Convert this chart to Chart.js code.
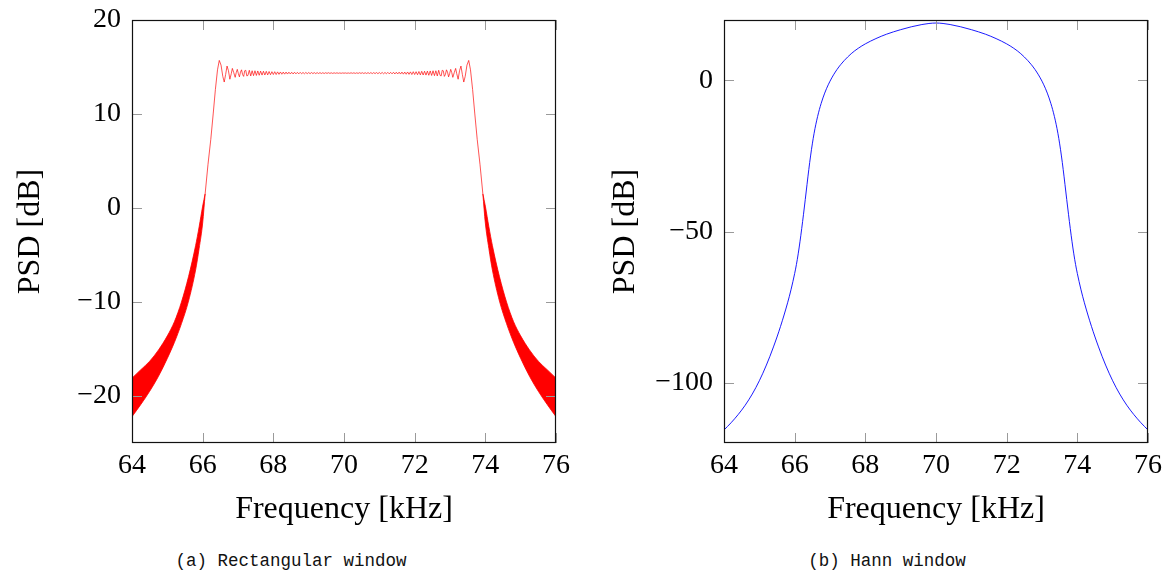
<!DOCTYPE html>
<html>
<head>
<meta charset="utf-8">
<script src="https://cdn.jsdelivr.net/npm/chart.js@4/dist/chart.umd.min.js"></script>
<style>
  body { margin: 0; background: #fff; width: 1168px; height: 577px; overflow: hidden; position: relative; }
  canvas { position: absolute; top: 0; }
  #rect { left: 0; }
  #hann { left: 584px; }
  .cap { position: absolute; top: 551px; font: 17.5px "Liberation Mono", monospace; color: #111;
         white-space: nowrap; transform: translateX(-50%); }
</style>
</head>
<body>
<canvas id="rect" width="584" height="540" style="width:584px;height:540px"></canvas>
<canvas id="hann" width="584" height="540" style="width:584px;height:540px"></canvas>
<div class="cap" style="left:291px">(a) Rectangular window</div>
<div class="cap" style="left:887px">(b) Hann window</div>
<script>
// Axis ticks
const freqTicks = [64, 66, 68, 70, 72, 74, 76];
const rectDbTicks = [-20, -10, 0, 10, 20];
const hannDbTicks = [-100, -50, 0];

// Rectangular window: skirts (dense ripple shown as the band between its envelopes)
const leftSkirtFreq  = [64.0, 64.25, 64.5, 64.75, 65.0, 65.2, 65.4, 65.6, 65.8, 65.9, 66.0, 66.07];
const leftSkirtUpper = [-18.1, -17.2, -16.3, -15.1, -13.6, -12.1, -10.0, -7.3, -4.0, -2.0, 0.2, 1.5];
const leftSkirtLower = [-22.2, -20.9, -19.5, -17.9, -16.0, -14.3, -12.3, -9.9, -6.6, -4.3, -1.6, 1.5];
const rightSkirtFreq  = [73.93, 74.0, 74.1, 74.2, 74.4, 74.6, 74.8, 75.0, 75.25, 75.5, 75.75, 76.0];
const rightSkirtUpper = [1.5, 0.2, -2.0, -4.0, -7.3, -10.0, -12.1, -13.6, -15.1, -16.3, -17.2, -18.1];
const rightSkirtLower = [1.5, -1.6, -4.3, -6.6, -9.9, -12.3, -14.3, -16.0, -17.9, -19.5, -20.9, -22.2];

// Rectangular window: passband with its ripple
const passFreq = [
  66.07, 66.15, 66.23, 66.30, 66.36, 66.42, 66.47, 66.52, 66.57, 66.61, 66.65, 66.69, 66.73, 66.77, 66.81,
  66.84, 66.88, 66.92, 66.95, 66.98, 67.01, 67.04, 67.07, 67.10, 67.13, 67.16, 67.19, 67.22, 67.25, 67.28,
  67.32, 67.36, 67.40, 67.44, 67.48, 67.52, 67.56, 67.60, 67.64, 67.68, 67.72, 67.76, 67.80, 67.84, 67.88,
  67.92, 67.96, 68.00, 68.04, 68.08, 68.12, 68.16, 68.20, 68.24, 68.28, 68.32, 68.36, 68.40, 68.44, 68.48,
  68.52, 68.56, 68.60, 68.64, 68.68, 68.72, 68.76, 68.80, 68.84, 68.88, 68.92, 68.96, 69.00, 69.04, 69.08,
  69.12, 69.16, 69.20, 69.24, 69.28, 69.32, 69.36, 69.40, 69.44, 69.48, 69.52, 69.56, 69.60, 69.64, 69.68,
  69.72, 69.76, 69.80, 69.84, 69.88, 69.92, 69.96, 70.00,
  70.04, 70.08, 70.12, 70.16, 70.20, 70.24, 70.28, 70.32, 70.36, 70.40, 70.44, 70.48, 70.52, 70.56, 70.60,
  70.64, 70.68, 70.72, 70.76, 70.80, 70.84, 70.88, 70.92, 70.96, 71.00, 71.04, 71.08, 71.12, 71.16, 71.20,
  71.24, 71.28, 71.32, 71.36, 71.40, 71.44, 71.48, 71.52, 71.56, 71.60, 71.64, 71.68, 71.72, 71.76, 71.80,
  71.84, 71.88, 71.92, 71.96, 72.00, 72.04, 72.08, 72.12, 72.16, 72.20, 72.24, 72.28, 72.32, 72.36, 72.40,
  72.44, 72.48, 72.52, 72.56, 72.60, 72.64, 72.68,
  72.72, 72.75, 72.78, 72.81, 72.84, 72.87, 72.90, 72.93, 72.96, 72.99, 73.02, 73.05, 73.08, 73.12, 73.16,
  73.19, 73.23, 73.27, 73.31, 73.35, 73.39, 73.43, 73.48, 73.53, 73.58, 73.64, 73.70, 73.77, 73.85, 73.93
];
const passDb = [
  1.5, 4.6, 7.3, 10.1, 12.6, 14.7, 15.7, 15.2, 14.0, 13.4, 14.2, 15.1, 14.6, 13.7, 14.3,
  14.85, 14.4, 13.9, 14.4, 14.75, 14.3, 13.95, 14.45, 14.7, 14.2, 14.0, 14.6, 14.65, 14.05, 14.1,
  14.65, 14.05, 14.60, 14.08, 14.60, 14.10, 14.58, 14.12, 14.56, 14.14, 14.55, 14.15, 14.54, 14.16, 14.52,
  14.18, 14.50, 14.20, 14.50, 14.20, 14.48, 14.22, 14.47, 14.23, 14.46, 14.24, 14.46, 14.25, 14.45, 14.26,
  14.44, 14.26, 14.44, 14.27, 14.43, 14.27, 14.43, 14.28, 14.42, 14.28, 14.42, 14.29, 14.41, 14.29, 14.41,
  14.30, 14.40, 14.30, 14.40, 14.31, 14.40, 14.31, 14.39, 14.31, 14.39, 14.32, 14.39, 14.32, 14.38, 14.32,
  14.38, 14.33, 14.38, 14.33, 14.37, 14.33, 14.37, 14.34,
  14.37, 14.33, 14.37, 14.33, 14.38, 14.33, 14.38, 14.32, 14.38, 14.32, 14.39, 14.32, 14.39, 14.31, 14.39,
  14.31, 14.40, 14.31, 14.40, 14.30, 14.40, 14.30, 14.41, 14.29, 14.41, 14.29, 14.42, 14.28, 14.42, 14.28,
  14.43, 14.27, 14.43, 14.27, 14.44, 14.26, 14.44, 14.26, 14.45, 14.25, 14.46, 14.24, 14.46, 14.23, 14.47,
  14.22, 14.48, 14.20, 14.50, 14.20, 14.50, 14.18, 14.52, 14.16, 14.54, 14.15, 14.55, 14.14, 14.56, 14.12,
  14.58, 14.10, 14.60, 14.08, 14.60, 14.05, 14.65,
  14.1, 14.05, 14.65, 14.6, 14.0, 14.2, 14.7, 14.45, 13.95, 14.3, 14.75, 14.4, 13.9, 14.4, 14.85,
  14.3, 13.7, 14.6, 15.1, 14.2, 13.4, 14.0, 15.2, 15.7, 14.7, 12.6, 10.1, 7.3, 4.6, 1.5
];

// Hann window spectrum
const hannFreq = [
  64.0, 64.2, 64.4, 64.6, 64.8, 65.0, 65.2, 65.4, 65.6, 65.8, 65.9, 66.0, 66.05, 66.1, 66.15,
  66.2, 66.25, 66.3, 66.35, 66.4, 66.45, 66.5, 66.55, 66.6, 66.65, 66.7, 66.75, 66.8, 66.85, 66.9,
  66.95, 67.0, 67.1, 67.2, 67.3, 67.4, 67.6, 67.8, 68.0, 68.3, 68.6, 69.0, 69.3, 69.6, 69.8, 69.9, 70.0,
  70.1, 70.2, 70.4, 70.7, 71.0, 71.4, 71.7, 72.0, 72.2, 72.4, 72.6, 72.7, 72.8, 72.9, 73.0, 73.05,
  73.1, 73.15, 73.2, 73.25, 73.3, 73.35, 73.4, 73.45, 73.5, 73.55, 73.6, 73.65, 73.7, 73.75, 73.8,
  73.85, 73.9, 73.95, 74.0, 74.1, 74.2, 74.4, 74.6, 74.8, 75.0, 75.2, 75.4, 75.6, 75.8, 76.0
];
const hannDb = [
  -115.7, -113.3, -110.6, -107.5, -103.8, -99.4, -94.2, -88.2, -81.4, -73.6, -69.1, -63.9, -60.9, -57.4, -53.4,
  -49.0, -44.3, -39.4, -34.4, -29.5, -25.0, -21.0, -17.5, -14.5, -11.9, -9.6, -7.6, -5.8, -4.2, -2.75,
  -1.45, -0.25, 1.85, 3.65, 5.2, 6.55, 8.85, 10.65, 12.1, 13.85, 15.3, 16.8, 17.75, 18.5, 18.85, 18.96, 19.0,
  18.96, 18.85, 18.5, 17.75, 16.8, 15.3, 13.85, 12.1, 10.65, 8.85, 6.55, 5.2, 3.65, 1.85, -0.25, -1.45,
  -2.75, -4.2, -5.8, -7.6, -9.6, -11.9, -14.5, -17.5, -21.0, -25.0, -29.5, -34.4, -39.4, -44.3, -49.0,
  -53.4, -57.4, -60.9, -63.9, -69.1, -73.6, -81.4, -88.2, -94.2, -99.4, -103.8, -107.5, -110.6, -113.3, -115.7
];

const toPoints = (xs, ys) => xs.map((x, i) => ({ x: x, y: ys[i] }));
const fmt = v => (v < 0 ? '\u2212' + Math.abs(v) : String(v));
const SERIF = '"Liberation Serif", "Times New Roman", serif';

// Box frame plus inward tick marks on all four sides
const framePlugin = {
  id: 'frame',
  afterDatasetsDraw(chart) {
    const { ctx, chartArea: a, scales } = chart;
    const L = 10;
    ctx.save();
    ctx.strokeStyle = '#9a9a9a';
    ctx.lineWidth = 1;
    ctx.beginPath();
    scales.x.ticks.forEach(t => {
      const px = Math.round(scales.x.getPixelForValue(t.value)) + 0.5;
      ctx.moveTo(px, a.bottom); ctx.lineTo(px, a.bottom - L);
      ctx.moveTo(px, a.top); ctx.lineTo(px, a.top + L);
    });
    scales.y.ticks.forEach(t => {
      const py = Math.round(scales.y.getPixelForValue(t.value)) + 0.5;
      ctx.moveTo(a.left, py); ctx.lineTo(a.left + L, py);
      ctx.moveTo(a.right, py); ctx.lineTo(a.right - L, py);
    });
    ctx.stroke();
    ctx.strokeStyle = '#111';
    ctx.lineWidth = 1.2;
    ctx.strokeRect(a.left + 0.5, a.top + 0.5, a.right - a.left - 1, a.bottom - a.top - 1);
    ctx.restore();
  }
};

function makeOptions(yMin, yMax, yTicks, yWidth, yTitlePad, rightPad) {
  return {
    responsive: false,
    animation: false,
    devicePixelRatio: 1,
    layout: { padding: { left: 0, right: rightPad, top: 20, bottom: 0 } },
    plugins: { legend: { display: false }, tooltip: { enabled: false } },
    elements: { point: { radius: 0 } },
    scales: {
      x: {
        type: 'linear', min: 64, max: 76,
        grid: { display: false, drawTicks: false },
        border: { display: false },
        afterBuildTicks: s => { s.ticks = freqTicks.map(v => ({ value: v })); },
        afterFit: s => { s.height = 97; s.paddingLeft = 0; s.paddingRight = 0; },
        ticks: { font: { family: SERIF, size: 28 }, color: '#000', padding: 6,
                 maxRotation: 0, autoSkip: false, callback: fmt },
        title: { display: true, text: 'Frequency [kHz]', color: '#000',
                 font: { family: SERIF, size: 32 }, padding: { top: 0, bottom: 11 } }
      },
      y: {
        type: 'linear', min: yMin, max: yMax,
        grid: { display: false, drawTicks: false },
        border: { display: false },
        afterBuildTicks: s => { s.ticks = yTicks.map(v => ({ value: v })); },
        afterFit: s => { s.width = yWidth; s.paddingTop = 0; s.paddingBottom = 0; },
        ticks: { font: { family: SERIF, size: 28 }, color: '#000', padding: 11,
                 autoSkip: false, callback: fmt },
        title: { display: true, text: 'PSD [dB]', color: '#000',
                 font: { family: SERIF, size: 32 }, padding: { top: yTitlePad, bottom: 0 } }
      }
    }
  };
}

const RED = 'rgb(255,0,0)';
const skirt = { borderColor: RED, borderWidth: 0.8, cubicInterpolationMode: 'monotone' };
new Chart(document.getElementById('rect'), {
  type: 'line',
  data: {
    datasets: [
      Object.assign({ data: toPoints(leftSkirtFreq, leftSkirtUpper), fill: false }, skirt),
      Object.assign({ data: toPoints(leftSkirtFreq, leftSkirtLower), fill: '-1', backgroundColor: RED }, skirt),
      Object.assign({ data: toPoints(rightSkirtFreq, rightSkirtUpper), fill: false }, skirt),
      Object.assign({ data: toPoints(rightSkirtFreq, rightSkirtLower), fill: '-1', backgroundColor: RED }, skirt),
      { data: toPoints(passFreq, passDb), borderColor: 'rgba(255,0,0,0.85)', borderWidth: 0.8, fill: false }
    ]
  },
  options: makeOptions(-25, 20, rectDbTicks, 132, 11, 28),
  plugins: [framePlugin]
});

new Chart(document.getElementById('hann'), {
  type: 'line',
  data: {
    datasets: [
      { data: toPoints(hannFreq, hannDb), borderColor: 'rgb(0,0,255)', borderWidth: 0.9,
        fill: false, cubicInterpolationMode: 'monotone' }
    ]
  },
  options: makeOptions(-120, 20, hannDbTicks, 140, 22, 20),
  plugins: [framePlugin]
});
</script>
</body>
</html>
